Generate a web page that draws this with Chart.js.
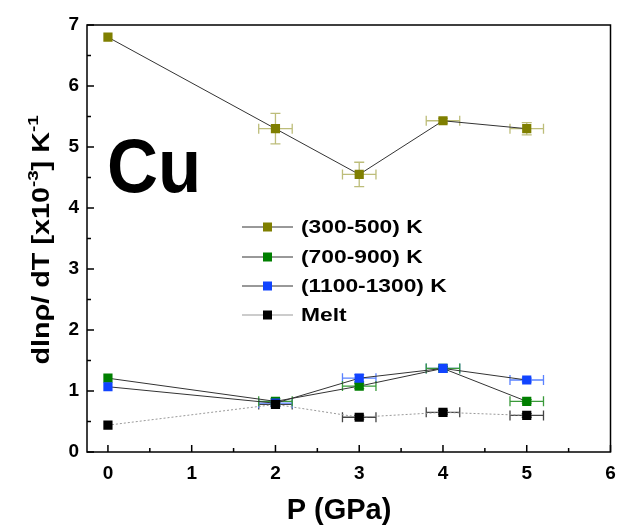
<!DOCTYPE html>
<html>
<head>
<meta charset="utf-8">
<script src="https://cdn.jsdelivr.net/npm/chart.js@4.4.0/dist/chart.umd.min.js"></script>
<style>
  html, body { margin: 0; padding: 0; background: #fff; }
  #wrap { width: 617px; height: 525px; }
</style>
</head>
<body>
<div id="wrap"><canvas id="mycanvas" width="617" height="525"></canvas></div>
<script>
// pressure points (GPa)
var pressure = [0, 2, 3, 4, 5];

var seriesNames = ['(300-500) K', '(700-900) K', '(1100-1300) K', 'Melt'];
var k300 = [6.80, 5.30, 4.55, 5.43, 5.30];
var k700 = [1.21, 0.83, 1.08, 1.37, 0.83];
var k1100 = [1.07, 0.80, 1.21, 1.37, 1.18];
var melt = [0.44, 0.78, 0.57, 0.65, 0.60];

// error bars (half widths)
var xErr = [0, 0.2, 0.2, 0.2, 0.2];
var k300Err = [0, 0.25, 0.2, 0.04, 0.1];
var k700Err = [0, 0.04, 0.04, 0.03, 0.03];
var k1100Err = [0, 0.04, 0.06, 0.03, 0.03];
var meltErr = [0, 0.03, 0.03, 0.03, 0.03];

var xTicks = [0, 1, 2, 3, 4, 5, 6];
var yTicks = [0, 1, 2, 3, 4, 5, 6, 7];

var colors = ['#7f7f00', '#007f00', '#1144ff', '#000000'];
var errColors = ['#bdbd7a', '#3a9a3a', '#5a82ff', '#444444'];
var lineColors = ['#333333', '#333333', '#333333', '#999999'];

function pts(ys) {
	var out = [];
	for (var i in pressure) {
		out.push({ x: pressure[i], y: ys[i] });
	}
	return out;
}

var allY = [k300, k700, k1100, melt];
var allErr = [k300Err, k700Err, k1100Err, meltErr];

var datasets = [];
for (var s = 0; s < allY.length; s++) {
	datasets.push({
		label: seriesNames[s],
		data: pts(allY[s]),
		showLine: true,
		borderColor: lineColors[s],
		borderWidth: 1,
		borderDash: s == 3 ? [2, 2] : [],
		pointStyle: 'rect',
		pointRadius: 6.5,
		pointHoverRadius: 6.5,
		pointBackgroundColor: colors[s],
		pointBorderColor: colors[s],
		pointBorderWidth: 0,
		yErr: allErr[s],
		errColor: errColors[s]
	});
}
// draw order: melt first, then others on top
datasets.reverse();

var FONT = '"Liberation Sans", Arial, sans-serif';

// text with a horizontal stretch factor
function stretchText(ctx, text, x, y, sx) {
	ctx.save();
	ctx.translate(x, y);
	ctx.scale(sx, 1);
	ctx.fillText(text, 0, 0);
	ctx.restore();
}

var framePlugin = {
	id: 'frame',
	beforeDatasetsDraw: function(chart) {
		var ctx = chart.ctx;
		var xs = chart.scales.x, ys = chart.scales.y;
		ctx.save();
		ctx.lineWidth = 1.3;
		chart.data.datasets.forEach(function(ds) {
			ctx.strokeStyle = ds.errColor;
			ds.data.forEach(function(p, i) {
				var px = xs.getPixelForValue(p.x), py = ys.getPixelForValue(p.y);
				var ex = xErr[i], ey = ds.yErr[i];
				if (ex > 0) {
					var x1 = xs.getPixelForValue(p.x - ex), x2 = xs.getPixelForValue(p.x + ex);
					ctx.beginPath();
					ctx.moveTo(x1, py); ctx.lineTo(x2, py);
					ctx.moveTo(x1, py - 5); ctx.lineTo(x1, py + 5);
					ctx.moveTo(x2, py - 5); ctx.lineTo(x2, py + 5);
					ctx.stroke();
				}
				if (ey > 0) {
					var y1 = ys.getPixelForValue(p.y - ey), y2 = ys.getPixelForValue(p.y + ey);
					ctx.beginPath();
					ctx.moveTo(px, y1); ctx.lineTo(px, y2);
					ctx.moveTo(px - 5, y1); ctx.lineTo(px + 5, y1);
					ctx.moveTo(px - 5, y2); ctx.lineTo(px + 5, y2);
					ctx.stroke();
				}
			});
		});
		ctx.restore();
	},
	afterDraw: function(chart) {
		var ctx = chart.ctx;
		var a = chart.chartArea;
		var xs = chart.scales.x, ys = chart.scales.y;
		ctx.save();
		// box
		ctx.strokeStyle = '#000';
		ctx.lineWidth = 1.5;
		ctx.strokeRect(a.left, a.top, a.right - a.left, a.bottom - a.top);
		// inward ticks
		ctx.beginPath();
		for (var v = 0; v <= 6; v += 0.5) {
			var x = xs.getPixelForValue(v);
			var len = (v % 1 == 0) ? 7 : 4;
			ctx.moveTo(x, a.bottom); ctx.lineTo(x, a.bottom - len);
		}
		for (var w = 0; w <= 7; w += 0.5) {
			var y = ys.getPixelForValue(w);
			var len2 = (w % 1 == 0) ? 7 : 4;
			ctx.moveTo(a.left, y); ctx.lineTo(a.left + len2, y);
		}
		ctx.stroke();

		// big label
		ctx.fillStyle = '#000';
		ctx.font = 'bold 76px ' + FONT;
		ctx.textBaseline = 'alphabetic';
		ctx.textAlign = 'left';
		stretchText(ctx, 'Cu', 107, 192, 0.93);

		// x title
		ctx.font = 'bold 29px ' + FONT;
		ctx.textAlign = 'center';
		stretchText(ctx, 'P (GPa)', 339, 519, 1.0);

		// legend
		var ly = [227, 257, 286, 315];
		ctx.font = 'bold 19px ' + FONT;
		ctx.textAlign = 'left';
		ctx.textBaseline = 'middle';
		for (var k = 0; k < seriesNames.length; k++) {
			ctx.strokeStyle = lineColors[k];
			ctx.lineWidth = 1;
			ctx.beginPath();
			ctx.moveTo(242, ly[k]); ctx.lineTo(293, ly[k]);
			ctx.stroke();
			ctx.fillStyle = colors[k];
			ctx.fillRect(263, ly[k] - 4.5, 9, 9);
			ctx.fillStyle = '#000';
			stretchText(ctx, seriesNames[k], 301, ly[k] + 1, 1.2);
		}

		// y title with superscripts
		ctx.translate(40, 240);
		ctx.rotate(-Math.PI / 2);
		ctx.scale(1.25, 1);
		var parts = [
			['dlnρ/ dT [x10', false],
			['-3', true],
			['] K', false],
			['-1', true]
		];
		var big = 'bold 23px ' + FONT, small = 'bold 15px ' + FONT;
		var total = 0;
		parts.forEach(function(p) {
			ctx.font = p[1] ? small : big;
			total += ctx.measureText(p[0]).width;
		});
		var cx = -total / 2;
		ctx.textAlign = 'left';
		ctx.textBaseline = 'alphabetic';
		parts.forEach(function(p) {
			ctx.font = p[1] ? small : big;
			ctx.fillText(p[0], cx, p[1] ? -2 : 9);
			cx += ctx.measureText(p[0]).width;
		});
		ctx.restore();
	}
};

var ctx = document.getElementById('mycanvas');
var chart = new Chart(ctx, {
	type: 'scatter',
	data: { datasets: datasets },
	plugins: [framePlugin],
	options: {
		responsive: false,
		animation: false,
		events: [],
		layout: { padding: { left: 0, right: 2, top: 25, bottom: 0 } },
		plugins: {
			legend: { display: false },
			tooltip: { enabled: false }
		},
		scales: {
			x: {
				type: 'linear',
				min: -0.25,
				max: 6,
				afterBuildTicks: function(axis) {
					axis.ticks = xTicks.map(function(v) { return { value: v }; });
				},
				afterFit: function(axis) {
					axis.height = 73;
					axis.paddingRight = 0;
					axis.paddingLeft = 0;
				},
				grid: { display: false, drawTicks: false },
				border: { display: false },
				ticks: {
					padding: 10,
					color: '#000',
					font: { family: FONT, size: 19, weight: 'bold' }
				}
			},
			y: {
				type: 'linear',
				min: 0,
				max: 7,
				afterBuildTicks: function(axis) {
					axis.ticks = yTicks.map(function(v) { return { value: v }; });
				},
				afterFit: function(axis) {
					axis.width = 87;
					axis.paddingTop = 0;
					axis.paddingBottom = 0;
				},
				grid: { display: false, drawTicks: false },
				border: { display: false },
				ticks: {
					padding: 8,
					color: '#000',
					font: { family: FONT, size: 19, weight: 'bold' }
				}
			}
		}
	}
});
</script>
</body>
</html>
